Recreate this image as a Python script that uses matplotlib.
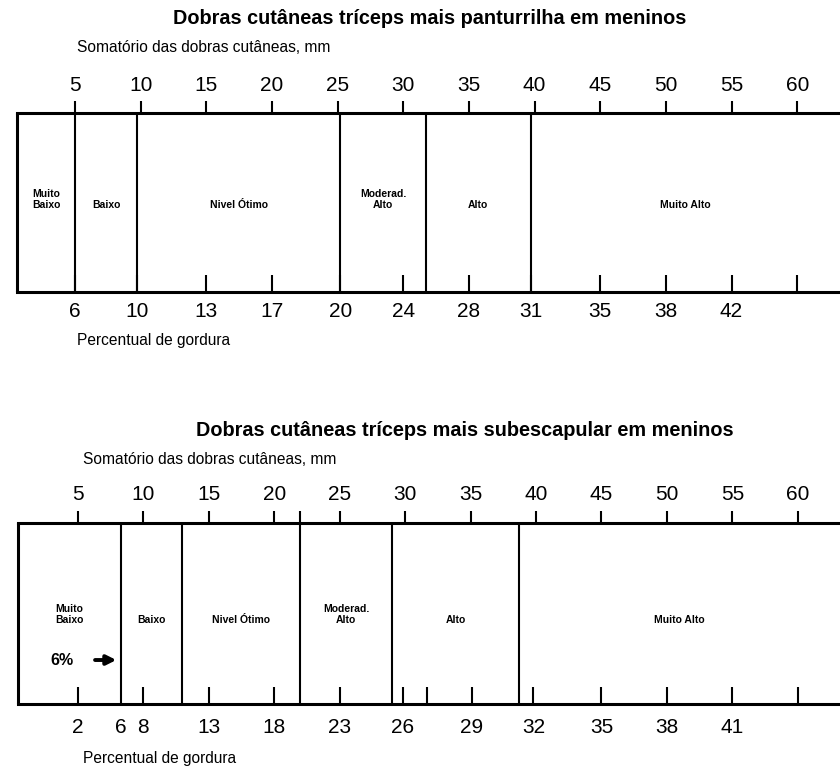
import matplotlib
matplotlib.use('Agg')
import matplotlib.pyplot as plt

plt.rcParams['font.family'] = ['Liberation Sans', 'DejaVu Sans']

# --- dados: painel 1 (tríceps + panturrilha) ---
titulo1 = 'Dobras cutâneas tríceps mais panturrilha em meninos'
mm_ticks1 = [5, 10, 15, 20, 25, 30, 35, 40, 45, 50, 55, 60]
divisores1 = [5, 9.7, 25.2, 31.7, 39.7]
pct_pos1 = [5, 9.7, 15, 20, 25.2, 30, 35, 39.7, 45, 50, 55, 60]
pct_lab1 = ['6', '10', '13', '17', '20', '24', '28', '31', '35', '38', '42', '']
borda1 = 0.56
xlim1 = (-0.72, 63.26)

# --- dados: painel 2 (tríceps + subescapular) ---
titulo2 = 'Dobras cutâneas tríceps mais subescapular em meninos'
mm_ticks2 = [5, 10, 15, 20, 25, 30, 35, 40, 45, 50, 55, 60]
mm_extra2 = [22]
divisores2 = [8.3, 12.95, 22.0, 29.0, 38.7]
pct_pos2 = [5, 8.3, 10, 15, 20, 25, 29.8, 31.7, 35.1, 39.8, 45, 50, 55, 60]
pct_lab2 = ['2', '6', '8', '13', '18', '23', '26', '', '29', '32', '35', '38', '41', '']
borda2 = 0.42
xlim2 = (-0.95, 63.22)

categorias = ['Muito\nBaixo', 'Baixo', 'Nivel Ótimo', 'Moderad.\nAlto', 'Alto', 'Muito Alto']

fig = plt.figure(figsize=(8.4, 7.66), dpi=100)
H = 766.0


def painel(rect, xlim, borda, divisores, mm_ticks, pct_pos, pct_lab, y_cat, mm_extra=None,
           pad_top=5, pad_bot=5, sem_tick=None):
    ax = fig.add_axes(rect)
    ax.set_xlim(*xlim)
    ax.set_ylim(0, 1)
    ax.set_yticks([])
    for s in ['left', 'right']:
        ax.spines[s].set_visible(False)
    for s in ['top', 'bottom']:
        ax.spines[s].set_linewidth(2.2)
        ax.spines[s].set_bounds(borda, xlim[1])
    # lado esquerdo da caixa e divisores
    ax.axvline(borda, color='black', lw=2.2)
    for d in divisores:
        ax.axvline(d, color='black', lw=1.5)
    # escala inferior: percentual de gordura
    ax.set_xticks(pct_pos, pct_lab)
    ax.tick_params(axis='x', direction='in', length=12, width=1.5, labelsize=15, pad=pad_bot)
    if sem_tick is not None:
        ax.xaxis.get_major_ticks()[sem_tick].tick1line.set_visible(False)
    # escala superior: somatório em mm
    sec = ax.secondary_xaxis('top')
    sec.spines['top'].set_visible(False)
    sec.set_xticks(mm_ticks)
    sec.tick_params(axis='x', direction='out', length=9, width=1.5, labelsize=15, pad=pad_top)
    if mm_extra:
        sec.set_xticks(mm_extra, minor=True)
        sec.tick_params(axis='x', which='minor', direction='out', length=9, width=1.5)
    # rótulos das faixas
    bordas = [borda] + divisores + [xlim[1]]
    for i, cat in enumerate(categorias):
        xc = (bordas[i] + bordas[i + 1]) / 2
        ax.text(xc, y_cat, cat, ha='center', va='baseline', fontsize=7.5,
                fontweight='bold', linespacing=1.1)
    return ax


ax1 = painel([0, 1 - 292 / H, 1, 179 / H], xlim1, borda1, divisores1, mm_ticks1,
             pct_pos1, pct_lab1, 0.47, pad_top=4, pad_bot=7)
ax2 = painel([0, 1 - 704 / H, 1, 181 / H], xlim2, borda2, divisores2, mm_ticks2,
             pct_pos2, pct_lab2, 0.45, mm_extra=mm_extra2, pad_top=5, pad_bot=10, sem_tick=1)

# marcador 6%
ax2.text(3.78, 0.243, '6%', ha='center', va='center', fontsize=11.5, fontweight='bold')
ax2.annotate('', xy=(8.15, 0.243), xytext=(6.1, 0.243),
             arrowprops=dict(arrowstyle='-|>', lw=2.8, color='black', mutation_scale=14))

# títulos e legendas
fig.text(430 / 840, 1 - 18 / H, titulo1, ha='center', va='center', fontsize=14.3, fontweight='bold')
fig.text(465 / 840, 1 - 430 / H, titulo2, ha='center', va='center', fontsize=14.3, fontweight='bold')
fig.text(77 / 840, 1 - 48 / H, 'Somatório das dobras cutâneas, mm', ha='left', va='center', fontsize=11.2)
fig.text(83 / 840, 1 - 460 / H, 'Somatório das dobras cutâneas, mm', ha='left', va='center', fontsize=11.2)
fig.text(77 / 840, 1 - 340 / H, 'Percentual de gordura', ha='left', va='center', fontsize=11.2)
fig.text(83 / 840, 1 - 758 / H, 'Percentual de gordura', ha='left', va='center', fontsize=11.2)

fig.savefig('out.png', dpi=100)
